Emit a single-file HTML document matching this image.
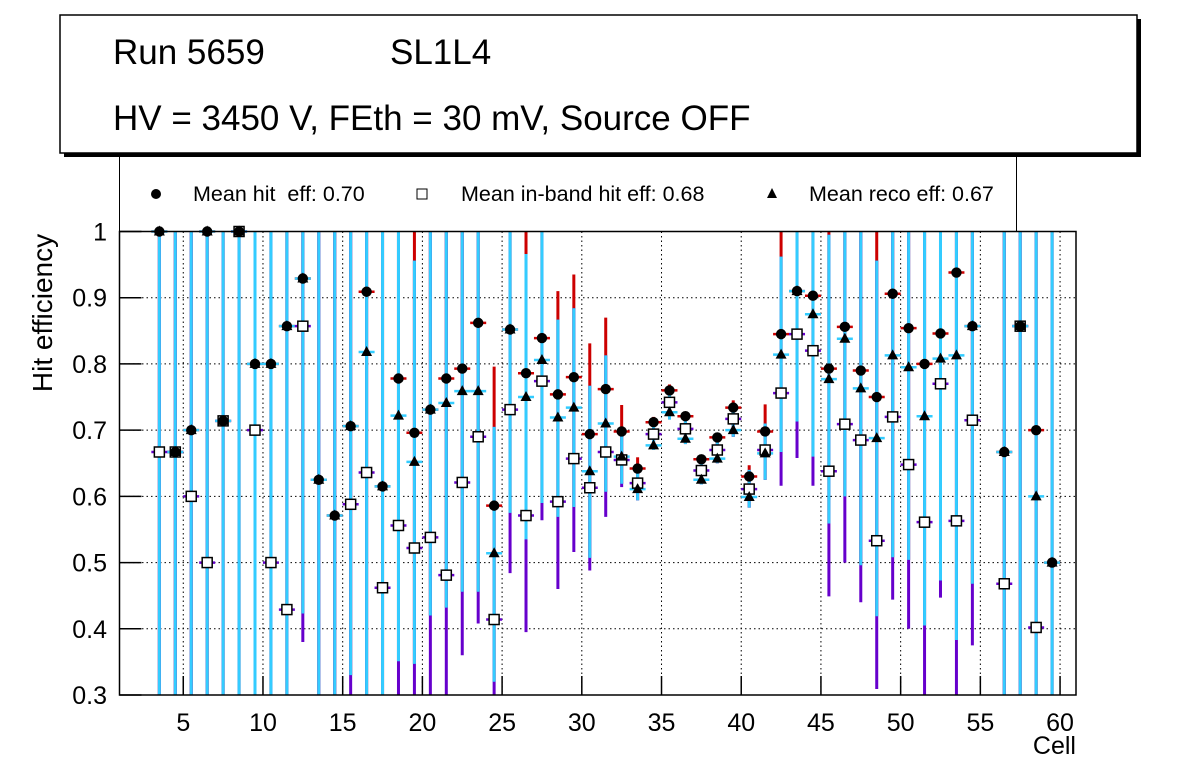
<!DOCTYPE html>
<html><head><meta charset="utf-8"><style>
body{margin:0;background:#fff;}
svg{display:block;font-family:"Liberation Sans",Arial,sans-serif;}
</style></head><body>
<svg id="chart" width="1196" height="772" viewBox="0 0 1196 772" xmlns="http://www.w3.org/2000/svg">
<rect x="64" y="19" width="1077" height="138" fill="#000"/>
<rect x="60" y="15" width="1077" height="138" fill="#fff" stroke="#000" stroke-width="1.5"/>
<text x="113" y="64" font-size="35">Run 5659</text>
<text x="390" y="64" font-size="35">SL1L4</text>
<text x="113" y="130" font-size="35">HV = 3450 V, FEth = 30 mV, Source OFF</text>
<g>
<line x1="119.5" y1="153" x2="119.5" y2="231" stroke="#000"/>
<line x1="1016.5" y1="153" x2="1016.5" y2="231" stroke="#000"/>
<circle cx="156" cy="194" r="5" fill="#000"/>
<text x="193" y="201" font-size="21.5">Mean hit&#160; eff: 0.70</text>
<rect x="417" y="189" width="10" height="10" fill="#fff" stroke="#000"/>
<text x="461" y="201" font-size="21.5">Mean in-band hit eff: 0.68</text>
<polygon points="772,188 777,198 767,198" fill="#000"/>
<text x="809" y="201" font-size="21.5">Mean reco eff: 0.67</text>
</g>
<g id="grid"></g>
<g id="marks"></g>
<rect x="119.5" y="231.5" width="956.5" height="463.5" fill="none" stroke="#000" stroke-width="1.5"/>
<g id="axes"></g>
<text x="52" y="313" font-size="28" text-anchor="middle" transform="rotate(-90 52 313)">Hit efficiency</text>
<text x="1076" y="754" font-size="25" text-anchor="end">Cell</text>
</svg>
<script>
const cells=[3,4,5,6,7,8,9,10,11,12,13,14,15,16,17,18,19,20,21,22,23,24,25,26,27,28,29,30,31,32,33,34,35,36,37,38,39,40,41,42,43,44,45,46,47,48,49,50,51,52,53,54,56,57,58,59];
const hitEff=[1,.667,.70,1,.714,1,.8,.8,.857,.929,.625,.571,.706,.909,.615,.778,.696,.731,.778,.793,.862,.586,.852,.786,.839,.754,.78,.694,.762,.698,.642,.712,.76,.721,.656,.689,.734,.63,.698,.845,.91,.903,.793,.856,.79,.75,.906,.854,.8,.846,.938,.857,.667,.857,.70,.5];
const inbandEff=[.667,.667,.60,.5,.714,1,.7,.5,.429,.857,null,null,.588,.636,.462,.556,.522,.538,.481,.621,.69,.414,.731,.571,.774,.592,.657,.613,.667,.655,.62,.694,.742,.702,.639,.67,.717,.611,.67,.756,.845,.82,.638,.709,.685,.533,.72,.648,.561,.77,.563,.715,.468,.857,.402,null];
const recoEff=[1,.667,.70,1,.714,1,.8,.8,.857,.929,.625,.571,.706,.818,.615,.722,.652,.731,.741,.759,.759,.514,.852,.75,.806,.719,.734,.638,.71,.66,.611,.677,.727,.687,.625,.657,.70,.599,.665,.814,.91,.875,.777,.838,.763,.688,.813,.795,.721,.808,.813,.857,.667,.857,.60,.5];
const hitHi=[1,1,1,1,1,1,1,1,1,1,1,1,1,1,1,1,1,1,1,1,1,.796,1,1,1,.91,.935,.831,.87,.738,.659,.72,.769,.728,.662,.696,.745,.647,.739,1,1,1,1,1,1,1,1,1,1,1,1,1,1,1,1,1];
const recoHi=[1,1,1,1,1,1,1,1,1,1,1,1,1,1,1,1,.956,1,1,1,1,.705,1,.966,1,.867,.884,.767,.813,.70,.64,.715,.765,.724,.66,.693,.74,.64,.71,.962,1,1,.995,1,1,.956,1,1,1,1,1,1,1,1,1,1];
const recoLo=[.3,.3,.3,.3,.3,.3,.3,.3,.3,.423,.3,.3,.33,.3,.3,.351,.347,.42,.432,.456,.456,.32,.575,.535,.59,.569,.584,.507,.607,.619,.594,.67,.716,.679,.618,.65,.69,.583,.625,.667,.713,.66,.559,.6,.496,.419,.508,.504,.405,.473,.383,.468,.3,.3,.3,.3];
const inbandLo=[.3,.3,.3,.3,.3,.3,.3,.3,.3,.38,.3,.3,.3,.3,.3,.3,.3,.3,.3,.36,.408,.3,.484,.395,.564,.46,.516,.488,.569,.614,.594,.67,.716,.679,.618,.65,.69,.583,.625,.616,.658,.616,.449,.5,.44,.309,.444,.4,.3,.447,.3,.375,.3,.3,.3,.3];
const yTicks=[1,0.9,0.8,0.7,0.6,0.5,0.4,0.3];
const yTickLabels=["1","0.9","0.8","0.7","0.6","0.5","0.4","0.3"];
const xTicks=[5,10,15,20,25,30,35,40,45,50,55,60];

const NS="http://www.w3.org/2000/svg";
const X0=119.5,X1=1076,Y0=231.5,Y1=695;
const xMin=1,xMax=61,yMin=0.3,yMax=1;
function sx(v){return X0+(v-xMin)/(xMax-xMin)*(X1-X0);}
function sy(v){return Y1-(v-yMin)/(yMax-yMin)*(Y1-Y0);}
function mk(tag,attrs,parent){const e=document.createElementNS(NS,tag);for(const k in attrs)e.setAttribute(k,attrs[k]);parent.appendChild(e);return e;}
const grid=document.getElementById('grid'),marks=document.getElementById('marks'),axes=document.getElementById('axes');
yTicks.forEach((t,i)=>{
  const y=sy(t);
  const g=mk('line',{x1:X0,x2:X1,y1:y,y2:y,stroke:'#000','stroke-dasharray':'1.5,3','stroke-width':1},grid);
  
  
  const tk=mk('line',{x1:X0,x2:X0+22,y1:y,y2:y,stroke:'#000','stroke-width':1.5},axes);
  
  
  const tx=mk('text',{x:107,y:y+9,'font-size':25,'text-anchor':'end'},axes);
  tx.textContent=yTickLabels[i];
  
  
});
xTicks.forEach(t=>{
  const x=sx(t);
  const g=mk('line',{x1:x,x2:x,y1:Y0,y2:Y1,stroke:'#000','stroke-dasharray':'1.5,3','stroke-width':1},grid);
  
  
  const tk=mk('line',{x1:x,x2:x,y1:Y1,y2:Y1-19,stroke:'#000','stroke-width':1.5},axes);
  
  
  const tx=mk('text',{x:x,y:731,'font-size':25,'text-anchor':'middle'},axes);
  tx.textContent=String(t);
  
  
});
const RED='#cc0000',PUR='#6600cc',CY='#33ccff';
function vbar(x,lo,hi,col){
  const l=mk('line',{x1:x,x2:x,y1:sy(Math.max(lo,yMin)),y2:sy(Math.min(hi,yMax)),stroke:col,'stroke-width':3},marks);
  
  
}
function hbar(x,v,col){
  if(v===null||v<yMin||v>yMax)return;
  const l=mk('line',{x1:x-8,x2:x+8,y1:sy(v),y2:sy(v),stroke:col,'stroke-width':2.5},marks);
  
  
}
cells.forEach((c,i)=>{
  const x=sx(c+0.5);
  vbar(x,recoLo[i],hitHi[i],RED);
  vbar(x,inbandLo[i],recoHi[i],PUR);
  vbar(x,recoLo[i],recoHi[i],CY);
  hbar(x,hitEff[i],RED);
  hbar(x,inbandEff[i],PUR);
  hbar(x,recoEff[i],CY);
});
cells.forEach((c,i)=>{
  const x=sx(c+0.5);
  if(inbandEff[i]!==null){
    const y=sy(inbandEff[i]);
    const s=mk('rect',{x:x-5,y:y-5,width:10,height:10,fill:'#fff',stroke:'#000','stroke-width':1.5},marks);
    
    
  }
  const ty=sy(recoEff[i]);
  const t=mk('polygon',{points:`${x},${ty-6} ${x+5.5},${ty+4} ${x-5.5},${ty+4}`,fill:'#000'},marks);
  
  
  const cc=mk('circle',{cx:x,cy:sy(hitEff[i]),r:5.2,fill:'#000'},marks);
  
  
});
</script>
</body></html>
